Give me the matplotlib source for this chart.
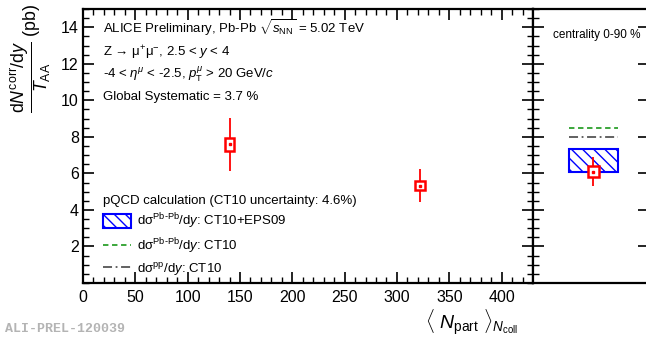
import matplotlib
matplotlib.use("Agg")
import matplotlib.pyplot as plt
from matplotlib.patches import Rectangle, Patch
from matplotlib.lines import Line2D
from matplotlib.ticker import MultipleLocator

plt.rcParams['font.family'] = ['Liberation Sans', 'DejaVu Sans']
plt.rcParams['mathtext.fontset'] = 'custom'
plt.rcParams['mathtext.rm'] = 'Liberation Sans'
plt.rcParams['mathtext.it'] = 'Liberation Sans:italic'
plt.rcParams['mathtext.bf'] = 'Liberation Sans:bold'

# centrality classes vs <Npart>
npart = [140, 322]
yields = [7.6, 5.33]
stat_err = [1.45, 0.92]
syst_err = [0.35, 0.25]

# centrality 0-90 %
mb_yield = 6.1
mb_err = 0.8
eps09_band = [6.08, 7.35]
ct10_pbpb = 8.5
ct10_pp = 8.0

fig = plt.figure(figsize=(6.46, 3.4), dpi=100)
W, H = 646, 340
ax = fig.add_axes([83 / W, (340 - 283) / H, 450 / W, 274 / H])
ax2 = fig.add_axes([533 / W, (340 - 283) / H, 116 / W, 274 / H])

for a in (ax, ax2):
    for s in a.spines.values():
        s.set_linewidth(1.6)

# left panel
ax.errorbar(npart, yields, yerr=stat_err, fmt='none', ecolor='red', elinewidth=1.3)
for x, y, s in zip(npart, yields, syst_err):
    ax.add_patch(Rectangle((x - 4.5, y - s), 9, 2 * s, facecolor='white',
                           edgecolor='red', linewidth=1.8, zorder=3))
ax.plot(npart, yields, 's', ms=1.5, color='red', zorder=4)

ax.set_xlim(0, 430)
ax.set_ylim(0, 15)
ax.xaxis.set_major_locator(MultipleLocator(50))
ax.xaxis.set_minor_locator(MultipleLocator(10))
ax.yaxis.set_minor_locator(MultipleLocator(0.5))
ax.set_yticks([2, 4, 6, 8, 10, 12, 14])
ax.tick_params(which='both', direction='in', top=True, right=True, labelsize=11.5)
ax.tick_params(which='major', length=8, width=1.2)
ax.tick_params(which='minor', length=4, width=1.0)
ax.tick_params(axis='x', pad=5)
ax.tick_params(axis='y', pad=3)

txt = dict(transform=ax.transAxes, fontsize=9.5, va='baseline', ha='left')
ax.text(0.045, 0.911, r'ALICE Preliminary, Pb-Pb $\sqrt{s_{\mathrm{NN}}}$ = 5.02 TeV', **txt)
ax.text(0.045, 0.826, r'Z → μ$^{+}$μ$^{-}$, 2.5 < $y$ < 4', **txt)
ax.text(0.045, 0.748, r'-4 < $\eta^{\mu}$ < -2.5, $p_{\mathrm{T}}^{\mu}$ > 20 GeV/$c$', **txt)
ax.text(0.045, 0.668, 'Global Systematic = 3.7 %', **txt)

handles = [
    Patch(facecolor='white', edgecolor='blue', hatch='\\\\\\', linewidth=1.5),
    Line2D([], [], color='#2ca02c', ls=(0, (3, 2)), lw=1.3),
    Line2D([], [], color='#555555', ls=(0, (5, 2, 1, 2)), lw=1.3),
]
labels = [r'dσ$^{\mathrm{Pb\text{-}Pb}}$/d$y$: CT10+EPS09',
          r'dσ$^{\mathrm{Pb\text{-}Pb}}$/d$y$: CT10',
          r'dσ$^{\mathrm{pp}}$/d$y$: CT10']
leg = ax.legend(handles, labels, loc='upper left', bbox_to_anchor=(0.044, 0.322),
                frameon=False, fontsize=9.5, title='pQCD calculation (CT10 uncertainty: 4.6%)',
                title_fontsize=9.5, alignment='left', handlelength=2.1, handleheight=1.25,
                handletextpad=0.5, labelspacing=0.38, borderaxespad=0, borderpad=0)

# right panel
ax2.set_xlim(0, 1)
ax2.set_ylim(0, 15)
ax2.add_patch(Rectangle((0.31, eps09_band[0]), 0.42, eps09_band[1] - eps09_band[0],
                        facecolor='white', edgecolor='blue', hatch='\\\\\\', linewidth=1.5))
ax2.plot([0.31, 0.73], [ct10_pbpb, ct10_pbpb], color='#2ca02c', ls=(0, (3, 2)), lw=1.3)
ax2.plot([0.31, 0.73], [ct10_pp, ct10_pp], color='#555555', ls=(0, (5, 2, 1, 2)), lw=1.3)
ax2.errorbar([0.52], [mb_yield], yerr=[mb_err], fmt='none', ecolor='red', elinewidth=1.3)
ax2.add_patch(Rectangle((0.47, mb_yield - 0.3), 0.1, 0.6, facecolor='white',
                        edgecolor='red', linewidth=1.8, zorder=3))
ax2.plot([0.52], [mb_yield], 's', ms=1.5, color='red', zorder=4)
ax2.set_xticks([])
ax2.yaxis.set_major_locator(MultipleLocator(2))
ax2.yaxis.set_minor_locator(MultipleLocator(0.5))
ax2.tick_params(which='both', direction='in', left=True, right=True, labelleft=False)
ax2.tick_params(which='major', length=8, width=1.2)
ax2.tick_params(which='minor', length=4, width=1.0, right=False)
ax2.text(0.17, 0.905, 'centrality 0-90 %', transform=ax2.transAxes, fontsize=8.5,
         va='center', ha='left')

fig.text(31 / W, 1 - 4 / H,
         r'$\dfrac{\mathrm{d}N^{\mathrm{corr}}/\mathrm{d}y}{T_{\mathrm{AA}}}$ (pb)',
         rotation=90, ha='center', va='top', fontsize=12.8)
fig.text(472 / W, 1 - 322 / H, r'$\langle\ N_{\mathrm{part}}\ \rangle_{N_{\mathrm{coll}}}$',
         ha='center', va='center', fontsize=14)
fig.text(5 / W, 1 - 329 / H, 'ALI-PREL-120039', family='Liberation Mono',
         fontweight='bold', color='#b4b4b4', fontsize=9.5, ha='left', va='center')

fig.savefig('out.png', dpi=100)
